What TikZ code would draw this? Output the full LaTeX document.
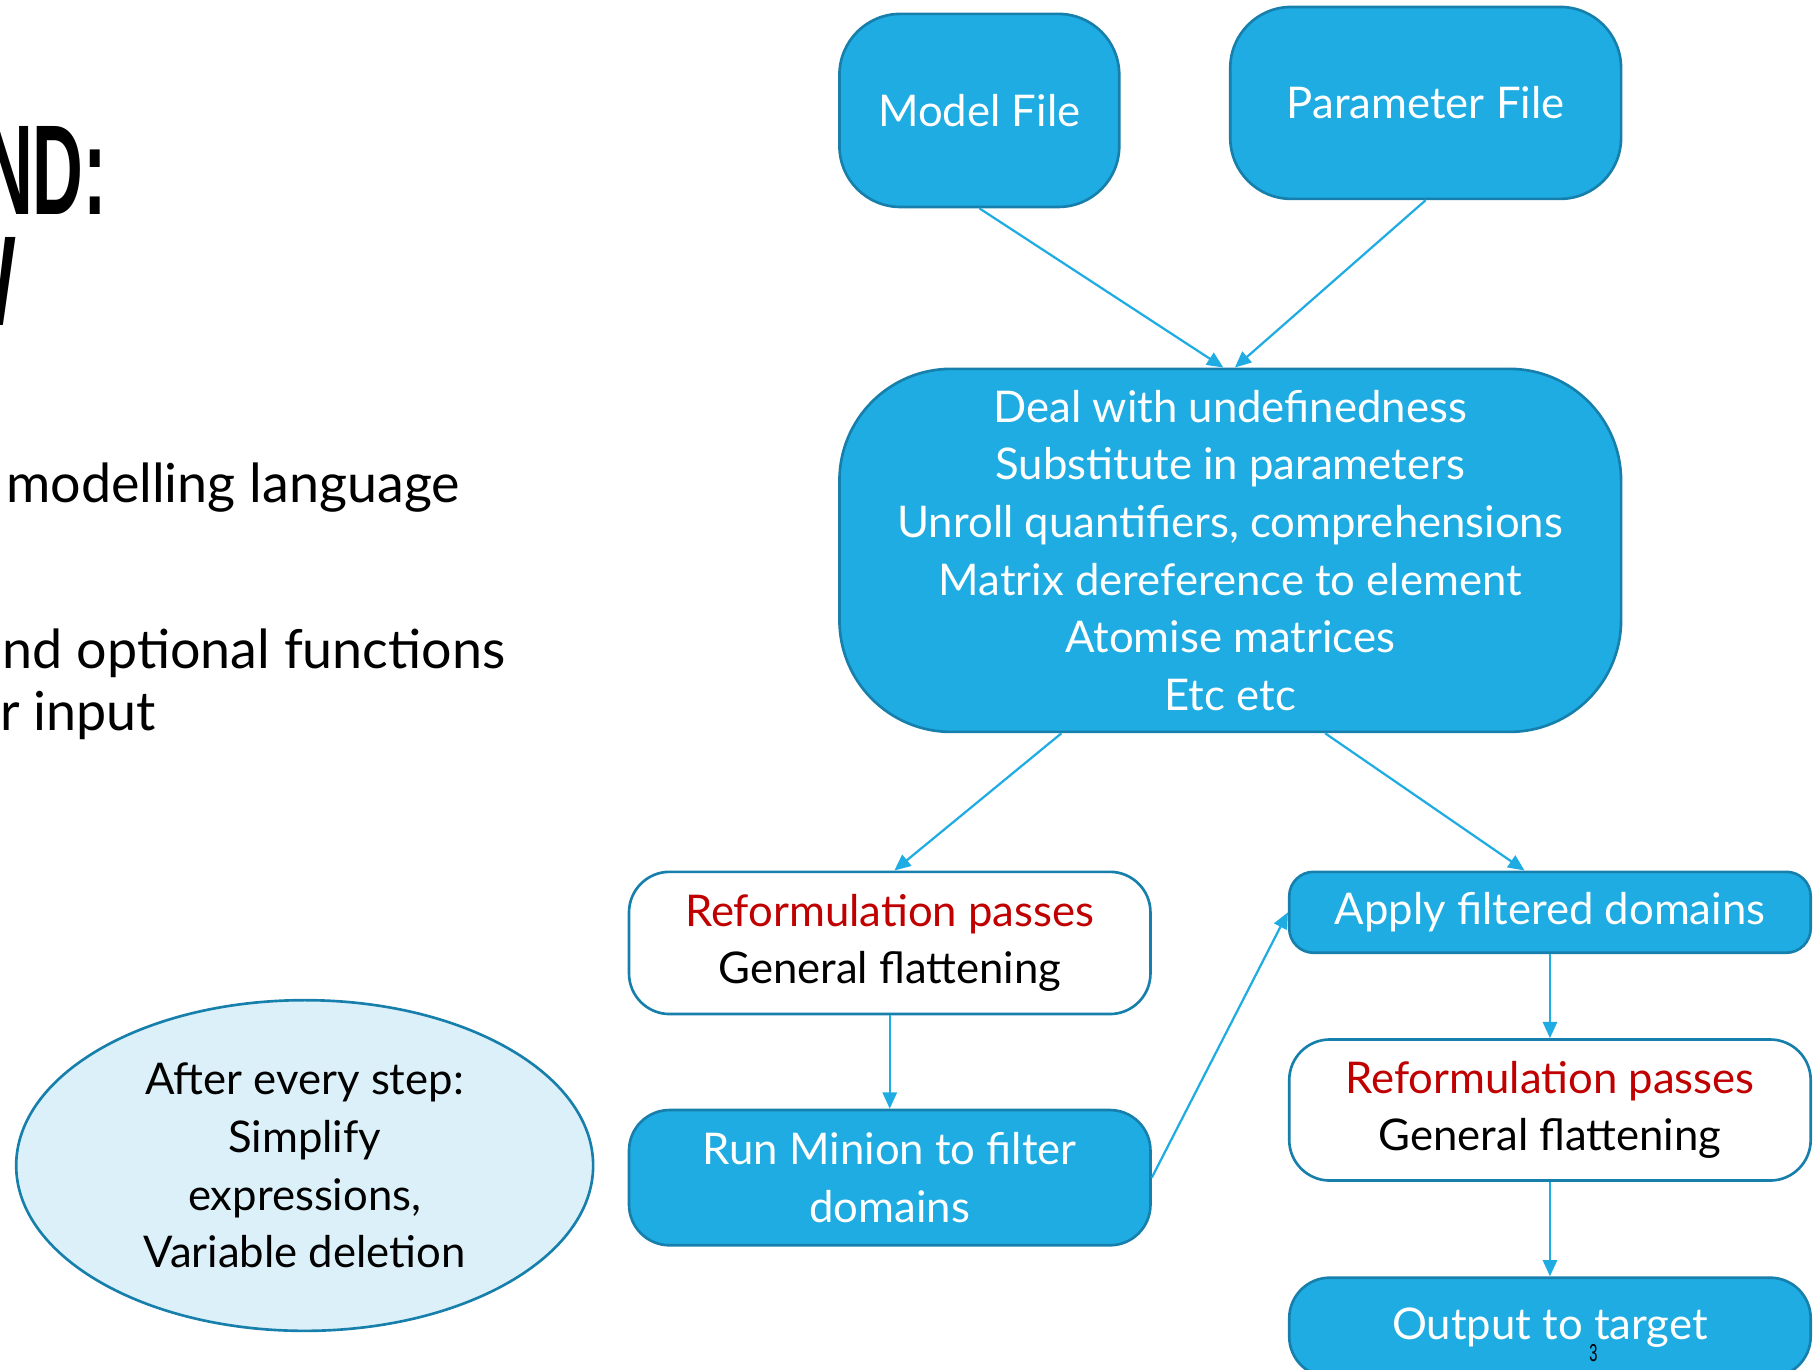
\documentclass[tikz,border=0pt]{standalone}
\usepackage{fontspec}
\usepackage{graphicx}
\setmainfont{Lato}
\newfontfamily\titlefont{Liberation Sans}
\usetikzlibrary{arrows.meta,shapes.geometric,calc}
\definecolor{boxfill}{HTML}{1EACE2}
\definecolor{boxline}{HTML}{177FAB}
\definecolor{arrowc}{HTML}{1EACE2}
\definecolor{redtxt}{HTML}{C00000}
\definecolor{ellfill}{HTML}{DBF0F9}
\newcommand\boxfont{\fontsize{21.5}{28.35}\selectfont}
\newcommand\bodyfont{\fontsize{26.5}{31}\selectfont}
\begin{document}
\begin{tikzpicture}[x=0.02cm,y=-0.02cm,
  bluebox/.style={draw=boxline, fill=boxfill, line width=1.3pt, text=white, align=center, inner sep=0pt, font=\boxfont},
  whitebox/.style={draw=boxline, fill=white, line width=1.3pt, text=black, align=center, inner sep=0pt, font=\boxfont},
  conn/.style={draw=arrowc, line width=1.1pt, -{Triangle[length=8pt,width=7pt]}},
  bodytext/.style={anchor=base west, inner sep=0pt, font=\bodyfont, text=black}]
\useasboundingbox (0,0) rectangle (1568,1184);
\clip (0,0) rectangle (1568,1184);

% title fragments
\node[anchor=east, inner sep=0pt, font=\titlefont\bfseries\fontsize{63}{70}\selectfont] (t1) at (93,147) {\scalebox{0.55}[1]{ND:}};
\node[anchor=east, inner sep=0pt, font=\titlefont\bfseries\fontsize{63}{70}\selectfont] (t2) at (14,243) {\scalebox{0.55}[1]{W}};

% body text fragments
\node[bodytext] (b1) at (5,435) {modelling language};
\node[bodytext] (b2) at (2,578) {nd optional functions};
\node[bodytext] (b3) at (0,632) {r input};

% nodes
\node[bluebox, rounded corners=30, minimum width=242*0.02cm, minimum height=167*0.02cm] (model) at (847,95.5) {Model File};
\node[bluebox, rounded corners=30, minimum width=338*0.02cm, minimum height=166*0.02cm] (param) at (1233,89) {Parameter File};
\node[bluebox, rounded corners=55, minimum width=676*0.02cm, minimum height=314*0.02cm] (deal) at (1064,476)
  {\rule{0pt}{6pt}Deal with undefinedness\\Substitute in parameters\\Unroll quantifiers, comprehensions\\Matrix dereference to element\\Atomise matrices\\Etc etc};
\node[whitebox, rounded corners=20, minimum width=451*0.02cm, minimum height=123*0.02cm] (reforma) at (769.5,815.5)
  {\rule{0pt}{10pt}\textcolor{redtxt}{Reformulation passes}\\General flattening};
\node[bluebox, rounded corners=20, minimum width=451*0.02cm, minimum height=117*0.02cm] (minion) at (769.5,1018.5)
  {Run Minion to filter\\domains};
\node[bluebox, rounded corners=12, minimum width=451*0.02cm, minimum height=70*0.02cm] (apply) at (1340.5,789)
  {Apply filtered domains};
\node[whitebox, rounded corners=20, minimum width=451*0.02cm, minimum height=122*0.02cm] (reformb) at (1340.5,960)
  {\rule{0pt}{8pt}\textcolor{redtxt}{Reformulation passes}\\General flattening};
\node[bluebox, rounded corners=20, minimum width=451*0.02cm, minimum height=86*0.02cm] (output) at (1340.5,1148)
  {Output to target};
\node[draw=boxline, fill=ellfill, line width=1.3pt, ellipse, minimum width=499*0.02cm, minimum height=286*0.02cm, inner sep=0pt, align=center, font=\boxfont] (ell) at (263.5,1008)
  {After every step:\\Simplify\\expressions,\\Variable deletion};
\node[inner sep=0pt, font=\titlefont\fontsize{12}{12}\selectfont] (pgnum) at (1378,1170) {\scalebox{0.6}[1]{3}};

% connectors
\draw[conn] (model.south) -- ($(deal.north)+(-6,0)$);
\draw[conn] (param.south) -- ($(deal.north)+(4,0)$);
\draw[conn] ($(deal.south)+(-146,0)$) -- ($(reforma.north)+(4,0)$);
\draw[conn] ($(deal.south)+(82,0)$) -- ($(apply.north)+(-22,0)$);
\draw[conn] (reforma.south) -- (minion.north);
\draw[conn] (minion.east) -- (apply.west);
\draw[conn] (apply.south) -- (reformb.north);
\draw[conn] (reformb.south) -- (output.north);
\end{tikzpicture}
\end{document}
